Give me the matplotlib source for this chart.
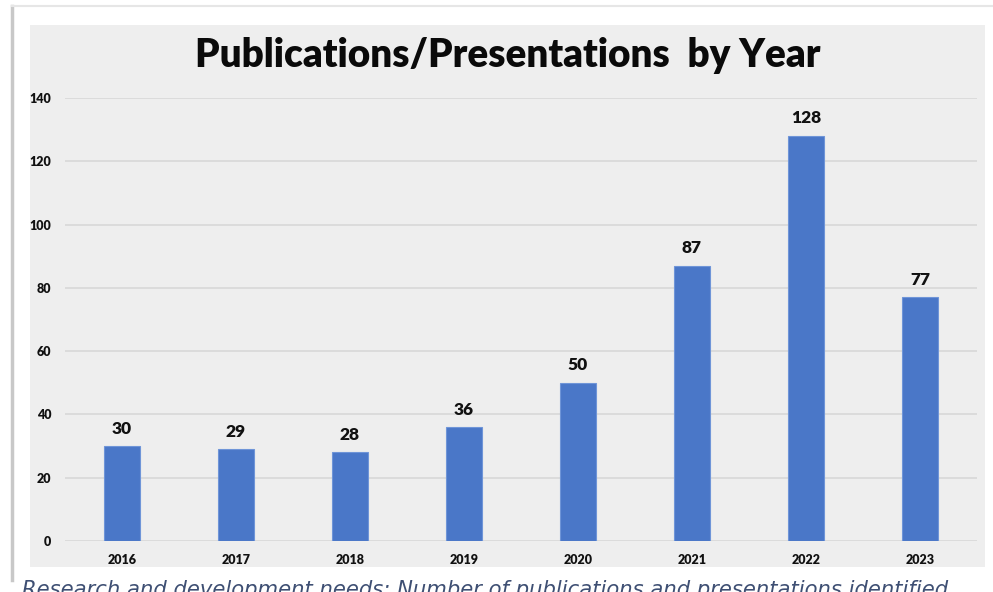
import numpy as np
import matplotlib.pyplot as plt
from matplotlib.patches import Rectangle
from matplotlib.lines import Line2D

years = ['2016', '2017', '2018', '2019', '2020', '2021', '2022', '2023']
counts = [30, 29, 28, 36, 50, 87, 128, 77]
y_ticks = [0, 20, 40, 60, 80, 100, 120, 140]

W, H = 993, 592
fig = plt.figure(figsize=(W / 100, H / 100), dpi=100)
fig.patch.set_facecolor('white')

# grey chart panel and frame of the pasted picture
fig.patches.append(Rectangle((30 / W, 1 - 567 / H), 955 / W, 542 / H,
                             transform=fig.transFigure, facecolor='#eeeeee',
                             edgecolor='none', zorder=0))
fig.add_artist(Line2D([12 / W, 12 / W], [1 - 580 / H, 1 - 6 / H],
                      transform=fig.transFigure, color='#c8c8c8', lw=2.5))
fig.add_artist(Line2D([12 / W, 1], [1 - 6 / H, 1 - 6 / H],
                      transform=fig.transFigure, color='#e6e6e6', lw=1.5))

ax = fig.add_axes([65 / W, 1 - 541 / H, 912 / W, 443 / H])
ax.set_zorder(2)
ax.set_facecolor('none')
x = np.arange(len(years))
bars = ax.bar(x, counts, width=0.31, color='#4a77c8', edgecolor='#6f95d8',
              linewidth=0.8, zorder=3)
for xi, v in zip(x, counts):
    ax.text(xi, v + 3, str(v), ha='center', va='bottom', fontsize=12.5,
            fontweight='heavy', family='Lato', color='#111111')

ax.set_xlim(-0.5, 7.5)
ax.set_ylim(0, 140)
ax.set_yticks(y_ticks)
ax.set_yticklabels([str(t) for t in y_ticks], fontsize=9, fontweight='heavy',
                   family='Lato', color='#111111')
ax.set_xticks(x)
ax.set_xticklabels(years, fontsize=9, fontweight='heavy', family='Lato',
                   color='#111111')
ax.tick_params(length=0, pad=9)
ax.tick_params(axis='y', pad=10)
ax.yaxis.grid(True, color='#d9d9d9', lw=1.3, zorder=0)
for s in ax.spines.values():
    s.set_visible(False)

fig.text(508 / W, 1 - 56 / H, 'Publications/Presentations  by Year',
         ha='center', va='center', fontsize=27.8, fontweight='heavy',
         family='Lato', color='#0a0a0a')

fig.text(22 / W, 1 - 596 / H,
         'Research and development needs: Number of publications and presentations identified',
         ha='left', va='baseline', fontsize=15.2, style='italic',
         family='DejaVu Sans', color='#3e4f73')

fig.savefig('out.png', dpi=100)
